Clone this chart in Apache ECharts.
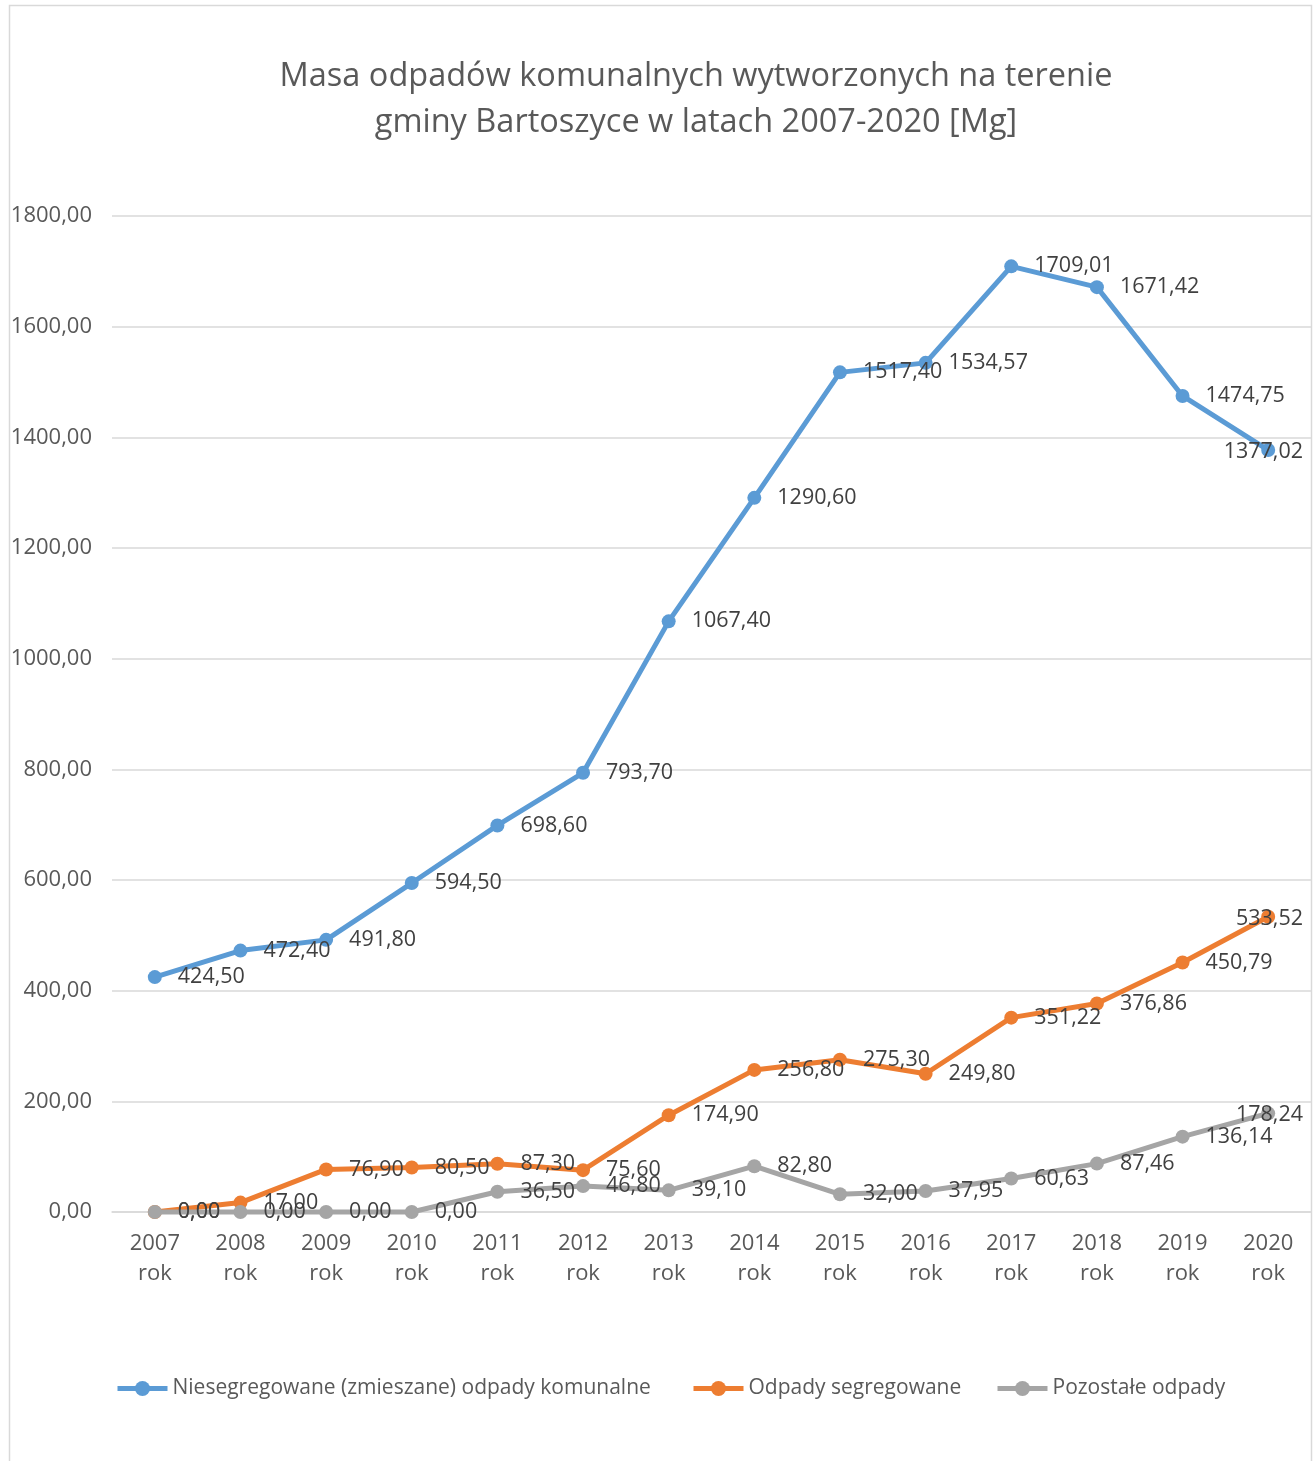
<!DOCTYPE html>
<html><head><meta charset="utf-8">
<script src="https://cdn.jsdelivr.net/npm/echarts@6/dist/echarts.min.js"></script>
<style>html,body{margin:0;padding:0;background:#fff}#c{width:1316px;height:1461px}</style>
</head><body><div id="c"></div>
<script>
const categories = ['2007\nrok','2008\nrok','2009\nrok','2010\nrok','2011\nrok','2012\nrok','2013\nrok','2014\nrok','2015\nrok','2016\nrok','2017\nrok','2018\nrok','2019\nrok','2020\nrok'];
const niesegregowane = [424.50,472.40,491.80,594.50,698.60,793.70,1067.40,1290.60,1517.40,1534.57,1709.01,1671.42,1474.75,1377.02];
const segregowane = [0.00,17.00,76.90,80.50,87.30,75.60,174.90,256.80,275.30,249.80,351.22,376.86,450.79,533.52];
const pozostale = [0.00,0.00,0.00,0.00,36.50,46.80,39.10,82.80,32.00,37.95,60.63,87.46,136.14,178.24];
const seriesNames = ['Niesegregowane (zmieszane) odpady komunalne','Odpady segregowane','Pozostałe odpady'];
const colors = ['#5B9BD5','#ED7D31','#A5A5A5'];
const titleText = 'Masa odpadów komunalnych wytworzonych na terenie\ngminy Bartoszyce w latach 2007-2020 [Mg]';

const FONT = '"Open Sans", sans-serif';
const W = 1316, RIGHT_LIMIT = W - 13;
const fmt = v => v.toFixed(2).replace('.', ',');

function mkSeries(name, data, color, z) {
  return {
    name, type: 'line', data, z,
    symbol: 'circle', symbolSize: 14,
    lineStyle: { width: 5, color },
    itemStyle: { color },
    label: {
      show: true, position: 'right', distance: 16, offset: [0, 2],
      color: '#404040', fontFamily: FONT, fontSize: 21.5,
      formatter: p => fmt(p.value)
    },
    labelLayout: p => {
      const r = p.labelRect;
      if (r.x + r.width > RIGHT_LIMIT) return { x: RIGHT_LIMIT - r.width, y: r.y, align: 'left', verticalAlign: 'top' };
      return {};
    },
    clip: false,
    emphasis: { disabled: true },
    animation: false
  };
}

const chart = echarts.init(document.getElementById('c'), null, { renderer: 'canvas' });
chart.setOption({
  backgroundColor: '#fff',
  animation: false,
  title: {
    text: titleText, left: 691, top: 49, textAlign: 'center',
    textStyle: { fontFamily: FONT, fontSize: 32.5, fontWeight: 'normal', color: '#595959', lineHeight: 46 }
  },
  graphic: [{
    type: 'rect', shape: { x: 9.5, y: 5.5, width: 1302, height: 1470 },
    style: { fill: null, stroke: '#d9d9d9', lineWidth: 1.5 }, silent: true, z: -1
  }],
  legend: [0, 1, 2].map(i => ({
    data: [seriesNames[i]],
    left: [110, 686, 990][i], top: 1373,
    itemWidth: 50, itemHeight: 19,
    lineStyle: { width: 5 },
    textStyle: { fontFamily: FONT, fontSize: 21, color: '#595959' },
    selectedMode: false
  })),
  grid: { left: 112, right: 5, top: 216, bottom: 249, containLabel: false },
  xAxis: {
    type: 'category', data: categories, boundaryGap: true,
    axisLine: { lineStyle: { color: '#d9d9d9', width: 1.5 } },
    axisTick: { show: false },
    axisLabel: { color: '#595959', fontFamily: FONT, fontSize: 22, lineHeight: 30, margin: 17, interval: 0 }
  },
  yAxis: {
    type: 'value', min: 0, max: 1800, interval: 200,
    axisLine: { show: false }, axisTick: { show: false },
    splitLine: { lineStyle: { color: '#d9d9d9', width: 1.5 } },
    axisLabel: { color: '#595959', fontFamily: FONT, fontSize: 22, margin: 20, formatter: v => fmt(v) }
  },
  series: [
    mkSeries(seriesNames[0], niesegregowane, colors[0], 2),
    mkSeries(seriesNames[1], segregowane, colors[1], 3),
    mkSeries(seriesNames[2], pozostale, colors[2], 4)
  ]
});
</script></body></html>
